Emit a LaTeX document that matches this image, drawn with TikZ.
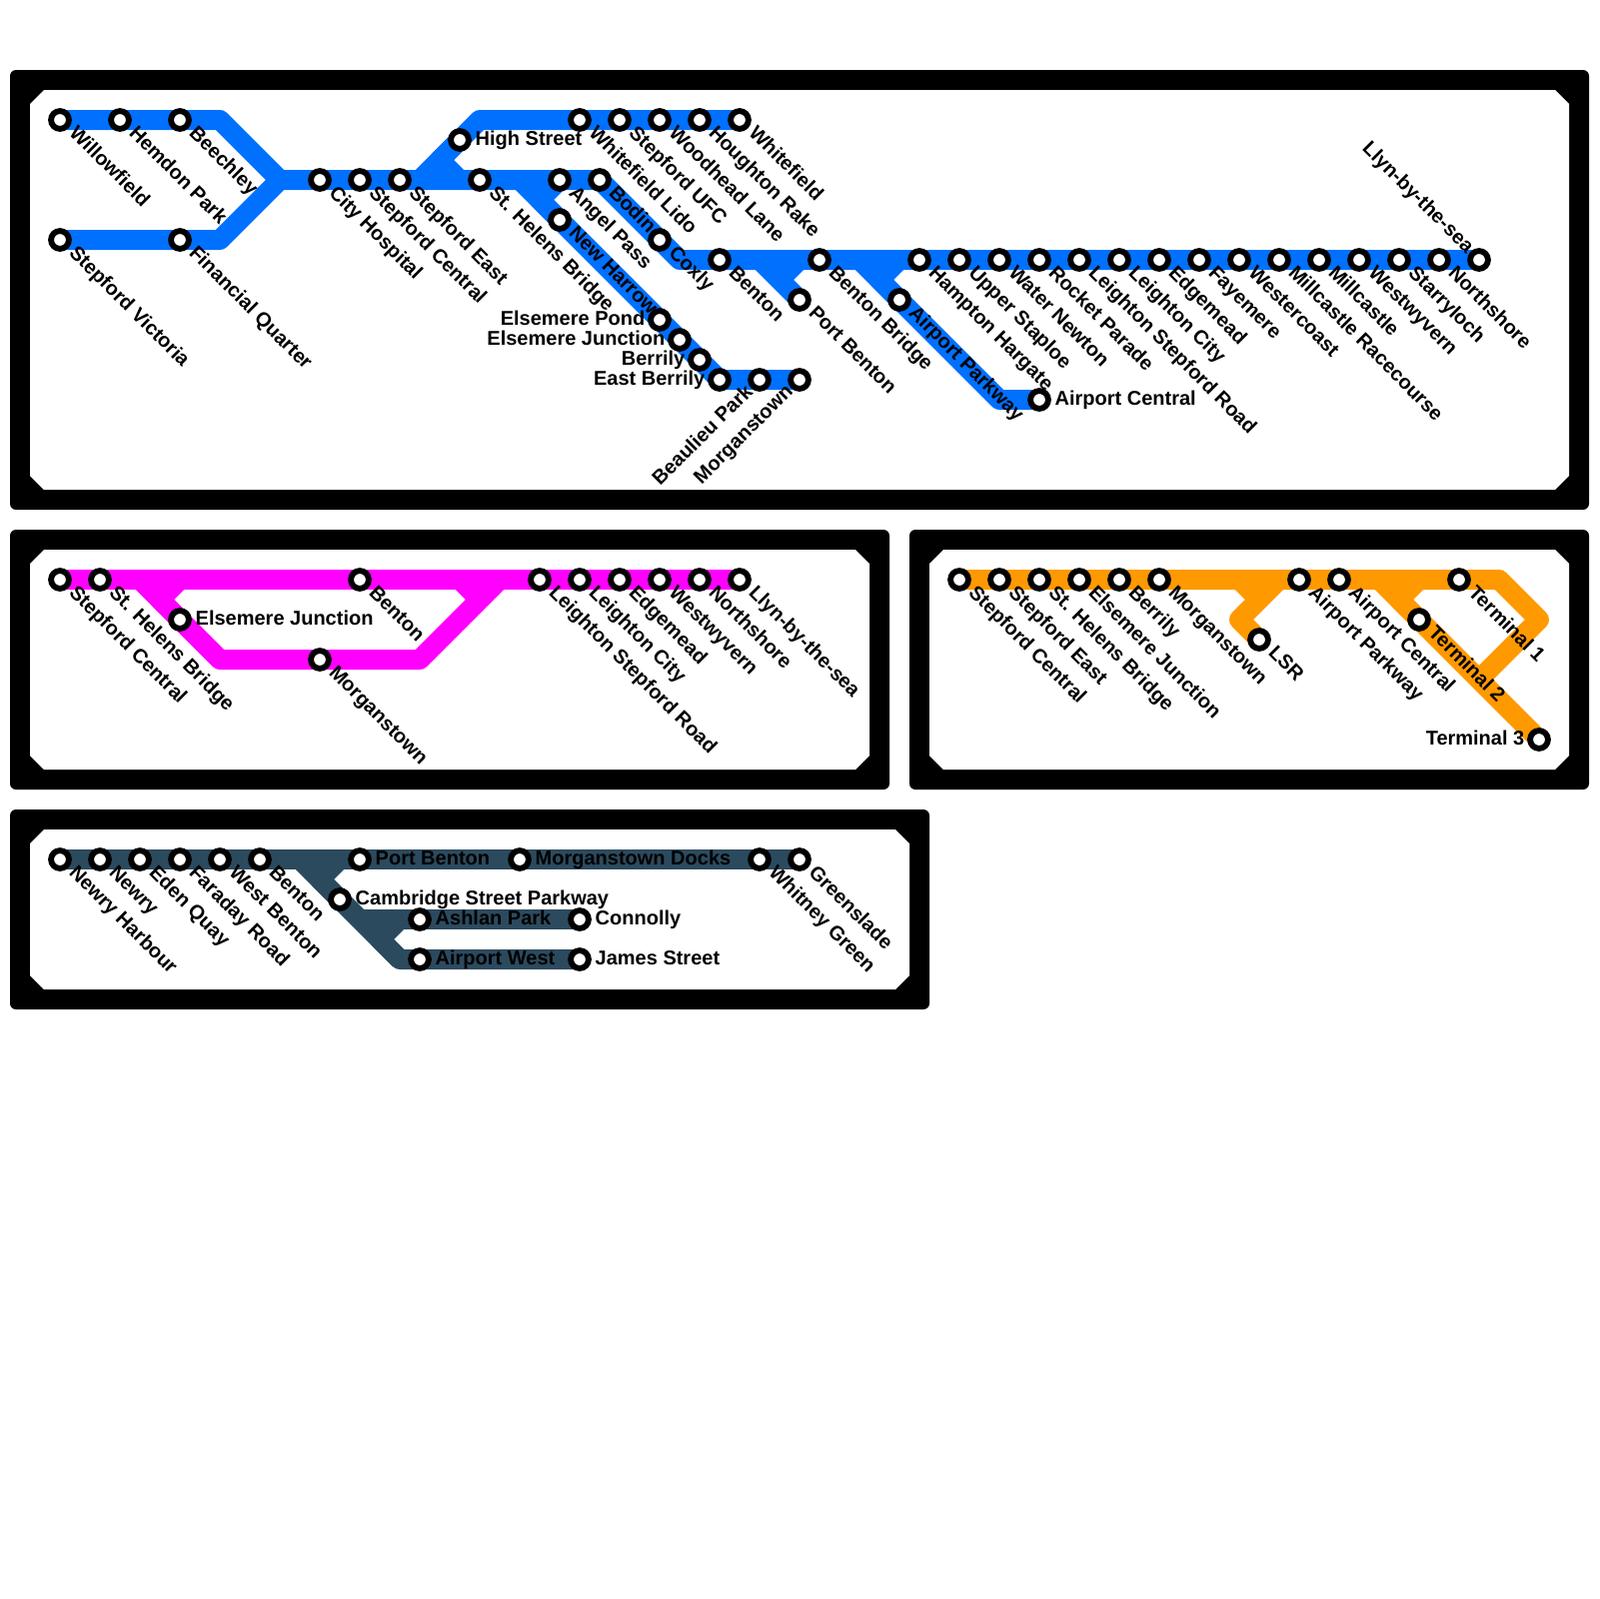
\documentclass[tikz,border=0pt]{standalone}
\usepackage{fontspec}
\setmainfont{Liberation Sans}
\usepackage{tikz}
\usetikzlibrary{backgrounds}
\definecolor{blueline}{HTML}{0070FF}
\definecolor{pinkline}{HTML}{FF00FF}
\definecolor{orangeline}{HTML}{FF9900}
\definecolor{navyline}{HTML}{2C4A5E}
\tikzset{
  stn/.style={circle,draw=black,fill=white,line width=.585mm,minimum size=1.785mm,inner sep=0pt},
  stnname/.style={inner sep=0pt,text height=1.45mm,text depth=.42mm,font=\fontsize{5.69}{6.8}\selectfont\bfseries},
  namedn/.style={stnname,xshift=1.15mm,yshift=-1mm,rotate=-45,anchor=west},
  nameup/.style={stnname,xshift=-.9mm,yshift=-.9mm,rotate=45,anchor=east},
  nameul/.style={stnname,xshift=-.9mm,yshift=.9mm,rotate=-45,anchor=east},
  nameright/.style={stnname,xshift=1.5mm,yshift=0mm,anchor=west},
  nameleft/.style={stnname,xshift=-1.4mm,yshift=0mm,anchor=east},
  metro/.style={line width=2mm,line join=round},
}
% station and its name
\newcommand{\stn}[4]{\node[stn] (#1) at (#2) {}; \node[#4] (#1-name) at (#1) {#3};}
% frame of one line
\newcommand{\lineframe}[4]{
  \fill[black,rounded corners=.6mm] (#1,#2) rectangle (#3,#4);
  \fill[white] ({#1+20},{#2+34}) -- ({#1+34},{#2+20}) -- ({#3-34},{#2+20}) -- ({#3-20},{#2+34})
    -- ({#3-20},{#4-34}) -- ({#3-34},{#4-20}) -- ({#1+34},{#4-20}) -- ({#1+20},{#4-34}) -- cycle;
}
\begin{document}
\begin{tikzpicture}[x=.1mm,y=-.1mm]
  \useasboundingbox (0,0) rectangle (1600,1600);
  \begin{scope}[on background layer]
    \lineframe{10}{70}{1590}{510}
    \lineframe{10}{530}{890}{790}
    \lineframe{910}{530}{1590}{790}
    \lineframe{10}{810}{930}{1010}
  \end{scope}

  % blue line
  \stn{willowfield}{60,120}{Willowfield}{namedn}
  \stn{hemdon}{120,120}{Hemdon Park}{namedn}
  \stn{beechley}{180,120}{Beechley}{namedn}
  \stn{stepvic}{60,240}{Stepford Victoria}{namedn}
  \stn{finquarter}{180,240}{Financial Quarter}{namedn}
  \stn{cityhosp}{320,180}{City Hospital}{namedn}
  \stn{stepcen}{360,180}{Stepford Central}{namedn}
  \stn{stepeast}{400,180}{Stepford East}{namedn}
  \stn{highst}{460,140}{High Street}{nameright}
  \stn{sthelens}{480,180}{St. Helens Bridge}{namedn}
  \stn{angel}{560,180}{Angel Pass}{namedn}
  \stn{bodin}{600,180}{Bodin}{namedn}
  \stn{newharrow}{560,220}{New Harrow}{namedn}
  \stn{whlido}{580,120}{Whitefield Lido}{namedn}
  \stn{stepufc}{620,120}{Stepford UFC}{namedn}
  \stn{woodhead}{660,120}{Woodhead Lane}{namedn}
  \stn{houghton}{700,120}{Houghton Rake}{namedn}
  \stn{whitefield}{740,120}{Whitefield}{namedn}
  \stn{coxly}{660,240}{Coxly}{namedn}
  \stn{benton}{720,260}{Benton}{namedn}
  \stn{portbenton}{800,300}{Port Benton}{namedn}
  \stn{bentonbr}{820,260}{Benton Bridge}{namedn}
  \stn{airpark}{900,300}{Airport Parkway}{namedn}
  \stn{hampton}{920,260}{Hampton Hargate}{namedn}
  \stn{staploe}{960,260}{Upper Staploe}{namedn}
  \stn{waternew}{1000,260}{Water Newton}{namedn}
  \stn{rocket}{1040,260}{Rocket Parade}{namedn}
  \stn{leighroad}{1080,260}{Leighton Stepford Road}{namedn}
  \stn{leighcity}{1120,260}{Leighton City}{namedn}
  \stn{edgemead}{1160,260}{Edgemead}{namedn}
  \stn{fayemere}{1200,260}{Fayemere}{namedn}
  \stn{westcoast}{1240,260}{Westercoast}{namedn}
  \stn{millrace}{1280,260}{Millcastle Racecourse}{namedn}
  \stn{millcastle}{1320,260}{Millcastle}{namedn}
  \stn{westwyv}{1360,260}{Westwyvern}{namedn}
  \stn{starry}{1400,260}{Starryloch}{namedn}
  \stn{northshore}{1440,260}{Northshore}{namedn}
  \stn{llyn}{1480,260}{Llyn-by-the-sea}{nameul}
  \stn{airportcen}{1040,400}{Airport Central}{nameright}
  \stn{elspond}{660,320}{Elsemere Pond}{nameleft}
  \stn{elsjunc}{680,340}{Elsemere Junction}{nameleft}
  \stn{berrily}{700,360}{Berrily}{nameleft}
  \stn{eastberrily}{720,380}{East Berrily}{nameleft}
  \stn{beaulieu}{760,380}{Beaulieu Park}{nameup}
  \stn{morgan}{800,380}{Morganstown}{nameup}

  \coordinate (topbend) at (220,120);
  \coordinate (lowbend) at (220,240);
  \coordinate (merge) at (280,180);
  \coordinate (upfork) at (420,180);
  \coordinate (uptop) at (480,120);
  \coordinate (hskink) at (440,160);
  \coordinate (hsjoin) at (460,180);
  \coordinate (harrowfork) at (520,180);
  \coordinate (harrowkink) at (540,200);
  \coordinate (coxlybend) at (680,260);
  \coordinate (pbfork) at (760,260);
  \coordinate (pbjoin) at (800,260);
  \coordinate (pbkink) at (780,280);
  \coordinate (apfork) at (860,260);
  \coordinate (apjoin) at (900,260);
  \coordinate (apkink) at (880,280);
  \coordinate (apbend) at (1000,400);
  \begin{scope}[on background layer]
    \draw[metro,blueline] (willowfield.center) -- (hemdon.center) -- (beechley.center) -- (topbend) -- (merge);
    \draw[metro,blueline] (stepvic.center) -- (finquarter.center) -- (lowbend) -- (merge) -- (cityhosp.center) -- (stepcen.center) -- (stepeast.center) -- (sthelens.center) -- (angel.center) -- (bodin.center) -- (coxly.center) -- (coxlybend) -- (benton.center) -- (bentonbr.center) -- (hampton.center) -- (llyn.center);
    \draw[metro,blueline] (upfork) -- (highst.center) -- (uptop) -- (whlido.center) -- (whitefield.center);
    \draw[metro,blueline] (highst.center) -- (hskink) -- (hsjoin);
    \draw[metro,blueline] (harrowfork) -- (newharrow.center) -- (elspond.center) -- (eastberrily.center) -- (morgan.center);
    \draw[metro,blueline] (angel.center) -- (harrowkink) -- (newharrow.center);
    \draw[metro,blueline] (pbfork) -- (portbenton.center) -- (pbkink) -- (pbjoin);
    \draw[metro,blueline] (apfork) -- (airpark.center) -- (apbend) -- (airportcen.center);
    \draw[metro,blueline] (airpark.center) -- (apkink) -- (apjoin);
  \end{scope}

  % pink line
  \stn{pstepcen}{60,580}{Stepford Central}{namedn}
  \stn{psthelens}{100,580}{St. Helens Bridge}{namedn}
  \stn{pelsjunc}{180,620}{Elsemere Junction}{nameright}
  \stn{pmorgan}{320,660}{Morganstown}{namedn}
  \stn{pbenton}{360,580}{Benton}{namedn}
  \stn{pleighroad}{540,580}{Leighton Stepford Road}{namedn}
  \stn{pleighcity}{580,580}{Leighton City}{namedn}
  \stn{pedgemead}{620,580}{Edgemead}{namedn}
  \stn{pwestwyv}{660,580}{Westwyvern}{namedn}
  \stn{pnorthshore}{700,580}{Northshore}{namedn}
  \stn{pllyn}{740,580}{Llyn-by-the-sea}{namedn}

  \coordinate (pfork) at (140,580);
  \coordinate (pbendl) at (220,660);
  \coordinate (pbendr) at (420,660);
  \coordinate (pmerge) at (500,580);
  \coordinate (pkinkl) at (160,600);
  \coordinate (pjoinl) at (180,580);
  \coordinate (pjoinr) at (460,580);
  \coordinate (pkinkr) at (480,600);
  \begin{scope}[on background layer]
    \draw[metro,pinkline] (pstepcen.center) -- (pbenton.center) -- (pllyn.center);
    \draw[metro,pinkline] (pfork) -- (pelsjunc.center) -- (pbendl) -- (pmorgan.center) -- (pbendr) -- (pmerge);
    \draw[metro,pinkline] (pelsjunc.center) -- (pkinkl) -- (pjoinl);
    \draw[metro,pinkline] (pjoinr) -- (pkinkr);
  \end{scope}

  % orange line
  \stn{ostepcen}{960,580}{Stepford Central}{namedn}
  \stn{ostepeast}{1000,580}{Stepford East}{namedn}
  \stn{osthelens}{1040,580}{St. Helens Bridge}{namedn}
  \stn{oelsjunc}{1080,580}{Elsemere Junction}{namedn}
  \stn{oberrily}{1120,580}{Berrily}{namedn}
  \stn{omorgan}{1160,580}{Morganstown}{namedn}
  \stn{olsr}{1260,640}{LSR}{namedn}
  \stn{oairpark}{1300,580}{Airport Parkway}{namedn}
  \stn{oairportcen}{1340,580}{Airport Central}{namedn}
  \stn{oterma}{1460,580}{Terminal 1}{namedn}
  \stn{otermb}{1420,620}{Terminal 2}{namedn}
  \stn{otermc}{1540,740}{Terminal 3}{nameleft}

  \coordinate (ojoinl) at (1240,580);
  \coordinate (okinkl) at (1260,600);
  \coordinate (ofork) at (1280,580);
  \coordinate (obendl) at (1240,620);
  \coordinate (ofork2) at (1380,580);
  \coordinate (okink2) at (1400,600);
  \coordinate (ojoin2) at (1420,580);
  \coordinate (otop) at (1500,580);
  \coordinate (oright) at (1540,620);
  \coordinate (omerge) at (1480,680);
  \begin{scope}[on background layer]
    \draw[metro,orangeline] (ostepcen.center) -- (omorgan.center) -- (oairpark.center) -- (oairportcen.center) -- (oterma.center) -- (otop) -- (oright) -- (omerge);
    \draw[metro,orangeline] (ojoinl) -- (okinkl);
    \draw[metro,orangeline] (ofork) -- (obendl) -- (olsr.center);
    \draw[metro,orangeline] (ofork2) -- (otermb.center) -- (otermc.center);
    \draw[metro,orangeline] (otermb.center) -- (okink2) -- (ojoin2);
  \end{scope}

  % navy line
  \stn{nharbour}{60,860}{Newry Harbour}{namedn}
  \stn{nnewry}{100,860}{Newry}{namedn}
  \stn{neden}{140,860}{Eden Quay}{namedn}
  \stn{nfaraday}{180,860}{Faraday Road}{namedn}
  \stn{nwestben}{220,860}{West Benton}{namedn}
  \stn{nbenton}{260,860}{Benton}{namedn}
  \stn{nportben}{360,860}{Port Benton}{nameright}
  \stn{ndocks}{520,860}{Morganstown Docks}{nameright}
  \stn{nwhitney}{760,860}{Whitney Green}{namedn}
  \stn{ngreens}{800,860}{Greenslade}{namedn}
  \stn{ncambridge}{340,900}{Cambridge Street Parkway}{nameright}
  \stn{nashlan}{420,920}{Ashlan Park}{nameright}
  \stn{nconnolly}{580,920}{Connolly}{nameright}
  \stn{nairwest}{420,960}{Airport West}{nameright}
  \stn{njames}{580,960}{James Street}{nameright}

  \coordinate (nfork) at (300,860);
  \coordinate (nbend) at (400,960);
  \coordinate (nkinka) at (320,880);
  \coordinate (njoina) at (340,860);
  \coordinate (nashfork) at (360,920);
  \coordinate (nashkink) at (400,920);
  \coordinate (nkinkb) at (380,940);
  \begin{scope}[on background layer]
    \draw[metro,navyline] (nharbour.center) -- (nportben.center) -- (ndocks.center) -- (ngreens.center);
    \draw[metro,navyline] (nfork) -- (ncambridge.center) -- (nbend) -- (nairwest.center) -- (njames.center);
    \draw[metro,navyline] (ncambridge.center) -- (nkinka) -- (njoina);
    \draw[metro,navyline] (nashfork) -- (nashlan.center) -- (nconnolly.center);
    \draw[metro,navyline] (nashkink) -- (nkinkb) -- (nbend);
  \end{scope}
\end{tikzpicture}
\end{document}
